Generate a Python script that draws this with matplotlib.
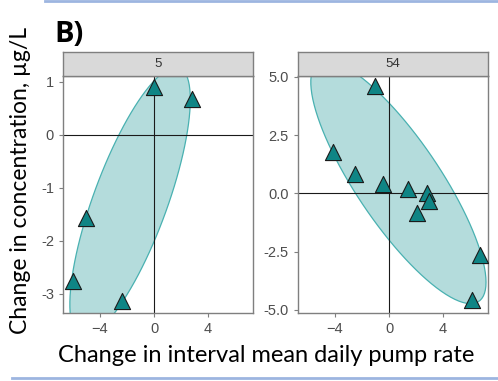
import numpy as np
import matplotlib
matplotlib.use("Agg")
import matplotlib.pyplot as plt
from matplotlib.lines import Line2D

# site 5
x5 = [0.0, 2.8, -5.0, -6.0, -2.35]
y5 = [0.9, 0.68, -1.57, -2.75, -3.13]
# site 54
x54 = [-1.04, -4.17, -2.52, -0.47, 1.38, 2.79, 2.96, 2.1, 6.74, 6.17]
y54 = [4.62, 1.8, 0.85, 0.39, 0.2, 0.0, -0.31, -0.83, -2.63, -4.57]

PANELS = ["5", "54"]
XTICKS = [-4, 0, 4]
YTICKS = {"5": [1, 0, -1, -2, -3], "54": [5.0, 2.5, 0.0, -2.5, -5.0]}
YFMT = {"5": "{:.0f}", "54": "{:.1f}"}
XLIM = (-6.74, 7.33)
YLIM = {"5": (-3.36, 1.11), "54": (-5.13, 5.04)}

# 95% ellipse per site: centre and scaled shape matrix (xx, xy, yy)
ELL_CENTER = {"5": [-1.773, -1.266], "54": [0.695, 0.483]}
ELL_SHAPE = {"5": [19.894, 8.619, 6.463], "54": [42.091, -27.847, 27.167]}

W, H = 498, 381
TEAL = "#0f8585"
ELL_FILL = "#b4dcdc"
ELL_EDGE = "#49b1b1"
GREY = "#7f7f7f"


def ellipse_path(key, segments=101):
    cx, cy = ELL_CENTER[key]
    sxx, sxy, syy = ELL_SHAPE[key]
    chol = np.linalg.cholesky(np.array([[sxx, sxy], [sxy, syy]])).T
    a = np.linspace(0, 2 * np.pi, segments + 1)
    circ = np.column_stack([np.cos(a), np.sin(a)])
    e = np.array([cx, cy]) + circ @ chol
    return e[:, 0], e[:, 1]


def box(x0, y0, x1, y1):
    return [x0 / W, 1 - y1 / H, (x1 - x0) / W, (y1 - y0) / H]


plt.rcParams["font.family"] = ["Liberation Sans", "DejaVu Sans"]
fig = plt.figure(figsize=(W / 100, H / 100), dpi=100)

data = {"5": (x5, y5), "54": (x54, y54)}
lefts = {"5": (63, 253), "54": (298, 488)}

for key in PANELS:
    xs, ys = data[key]
    l, r = lefts[key]
    ax = fig.add_axes(box(l, 76, r, 313))
    ex, ey = ellipse_path(key)
    ax.fill(ex, ey, facecolor=ELL_FILL, edgecolor=ELL_EDGE, lw=0.9, zorder=1)
    ax.axhline(0, color="#1a1a1a", lw=0.8, zorder=2)
    ax.axvline(0, color="#1a1a1a", lw=0.8, zorder=2)
    ax.scatter(xs, ys, marker="^", s=135, facecolor=TEAL, edgecolor="#1a1a1a",
               linewidths=0.8, zorder=3)
    ax.set_xlim(*XLIM)
    ax.set_ylim(*YLIM[key])
    ax.set_xticks(XTICKS)
    ax.set_yticks(YTICKS[key])
    ax.set_yticklabels([YFMT[key].format(v) for v in YTICKS[key]])
    ax.tick_params(colors=GREY, labelcolor="#4d4d4d", labelsize=10.5, length=3, width=0.8)
    for sp in ax.spines.values():
        sp.set_color(GREY)
        sp.set_linewidth(1.0)

    strip = fig.add_axes(box(l, 52, r, 76))
    strip.set_facecolor("#d9d9d9")
    strip.set_xticks([])
    strip.set_yticks([])
    for sp in strip.spines.values():
        sp.set_color(GREY)
        sp.set_linewidth(1.0)
    strip.text(0.5, 0.5, key, ha="center", va="center", color="#333333",
               fontsize=9.5, transform=strip.transAxes)

fig.text(54 / W, 1 - 34 / H, "B)", fontsize=21, fontweight="bold", va="center",
         ha="left", family=["Open Sans", "DejaVu Sans"])
fig.text(21 / W, 1 - 181 / H, "Change in concentration, \u00b5g/L", rotation=90,
         ha="center", va="center", fontsize=16.5, family=["Lato", "DejaVu Sans"])
fig.text(266 / W, 1 - 356 / H, "Change in interval mean daily pump rate",
         ha="center", va="center", fontsize=17, family=["Lato", "DejaVu Sans"])

# slide rules above and below
fig.add_artist(Line2D([45 / W, 1], [1 - 1 / H] * 2, color="#9db5e0", lw=2))
fig.add_artist(Line2D([12 / W, 1], [1 - 378 / H] * 2, color="#9db5e0", lw=2))

fig.savefig("out.png", dpi=100)
